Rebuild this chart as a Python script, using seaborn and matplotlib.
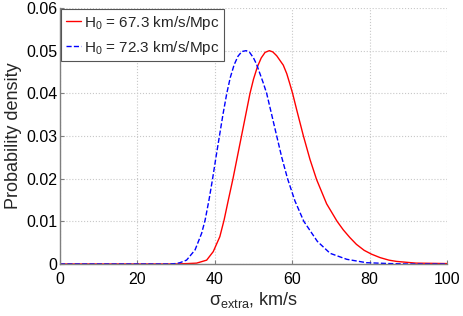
"""
Posterior density of sigma_extra for two values of H0.
"""

import matplotlib

matplotlib.use("Agg")
import matplotlib.pyplot as plt
import pandas as pd
import seaborn as sns
from matplotlib.ticker import FuncFormatter

# H0 = 67.3 km/s/Mpc (red, solid)
sigma_673 = [0, 10, 20, 30, 33, 35.3, 37.9, 39.6, 41.3, 42.4, 43.5, 44.7, 45.8,
             46.9, 48, 49.1, 50, 51, 52, 53, 54.1, 55, 56, 57.7, 58.6, 59.4,
             60.1, 61.2, 62.9, 64.6, 66.3, 68.9, 71.6, 73.2, 74.9, 76.6, 78.6,
             80.5, 82.7, 85, 87, 92, 100]
dens_673 = [0, 0, 0, 0, 0.0001, 0.0002, 0.0009, 0.0029, 0.0064, 0.0103, 0.0150,
            0.0200, 0.0250, 0.0300, 0.0350, 0.0400, 0.0433, 0.0462, 0.0483,
            0.0496, 0.0500, 0.0497, 0.0488, 0.0466, 0.0446, 0.0422, 0.0400,
            0.0360, 0.0300, 0.0245, 0.0198, 0.0141, 0.0100, 0.0080, 0.0062,
            0.0046, 0.0032, 0.0023, 0.0015, 0.0009, 0.0006, 0.0002, 0.0001]

# H0 = 72.3 km/s/Mpc (blue, dashed)
sigma_723 = [0, 10, 20, 28, 30, 31, 32.7, 34.9, 36.6, 37.5, 38.5, 39.4, 40.3,
             41.2, 42.1, 43.1, 44, 45, 46, 47, 48.1, 49, 50, 50.8, 52.5, 53.4,
             54.7, 56, 57.3, 58.8, 60.7, 63, 66.5, 69.8, 74.1, 79.2, 85, 90, 100]
dens_723 = [0, 0, 0, 0, 0.0001, 0.0003, 0.0009, 0.0033, 0.0072, 0.0103, 0.0150,
            0.0198, 0.0250, 0.0300, 0.0350, 0.0400, 0.0437, 0.0467, 0.0487,
            0.0498, 0.0500, 0.0496, 0.0483, 0.0468, 0.0425, 0.0400, 0.0350,
            0.0300, 0.0250, 0.0200, 0.0148, 0.0100, 0.0053, 0.0025, 0.0011,
            0.0003, 0.0001, 0, 0]

labels = ["H$_\\mathregular{0}$ = 67.3 km/s/Mpc", "H$_\\mathregular{0}$ = 72.3 km/s/Mpc"]


def main() -> None:
    sns.set_theme(style="whitegrid")
    plt.rcParams.update({
        "font.family": ["Liberation Sans", "DejaVu Sans"],
        "font.size": 11.5,
        "grid.linestyle": ":",
        "grid.color": "#c8c8c8",
        "grid.linewidth": 0.8,
        "axes.edgecolor": "#7f7f7f",
        "axes.linewidth": 1.0,
        "xtick.direction": "in",
        "ytick.direction": "in",
        "xtick.color": "#7f7f7f",
        "ytick.color": "#7f7f7f",
        "xtick.labelcolor": "black",
        "ytick.labelcolor": "black",
        "xtick.bottom": True,
        "ytick.left": True,
    })

    df_red = pd.DataFrame({"sigma": sigma_673, "density": dens_673})
    df_blue = pd.DataFrame({"sigma": sigma_723, "density": dens_723})

    fig = plt.figure(figsize=(4.63, 3.16), dpi=100)
    ax = fig.add_axes([0.1296, 0.1646, 0.8358, 0.8101])

    sns.lineplot(data=df_red, x="sigma", y="density", ax=ax, color="#ff0000",
                 linewidth=1.0, label=labels[0], sort=False)
    sns.lineplot(data=df_blue, x="sigma", y="density", ax=ax, color="#0000ff",
                 linewidth=1.0, linestyle="--", dashes=(3, 1.5), label=labels[1],
                 sort=False)

    ax.set_xlim(0, 100)
    ax.set_ylim(0, 0.06)
    ax.set_xticks([0, 20, 40, 60, 80, 100])
    ax.set_yticks([0, 0.01, 0.02, 0.03, 0.04, 0.05, 0.06])
    ax.yaxis.set_major_formatter(FuncFormatter(lambda v, _: f"{v:g}"))
    ax.tick_params(axis="both", length=3, width=0.8, labelsize=11.5)
    ax.tick_params(axis="x", pad=6)
    ax.tick_params(axis="y", pad=2)
    for side in ("top", "right"):
        ax.spines[side].set_visible(False)

    ax.set_xlabel("σ$_\\mathregular{extra}$, km/s", fontsize=13, labelpad=2)
    ax.set_ylabel("Probability density", fontsize=13, labelpad=3)

    leg = ax.legend(loc="upper left", fontsize=11, frameon=True, fancybox=False,
                    framealpha=1, edgecolor="#555555", borderaxespad=0.08,
                    borderpad=0.3, handlelength=1.0, handletextpad=0.2,
                    labelspacing=0.45)
    leg.get_frame().set_linewidth(0.8)

    fig.savefig("out.png", dpi=100)
    plt.close(fig)


if __name__ == "__main__":
    main()
